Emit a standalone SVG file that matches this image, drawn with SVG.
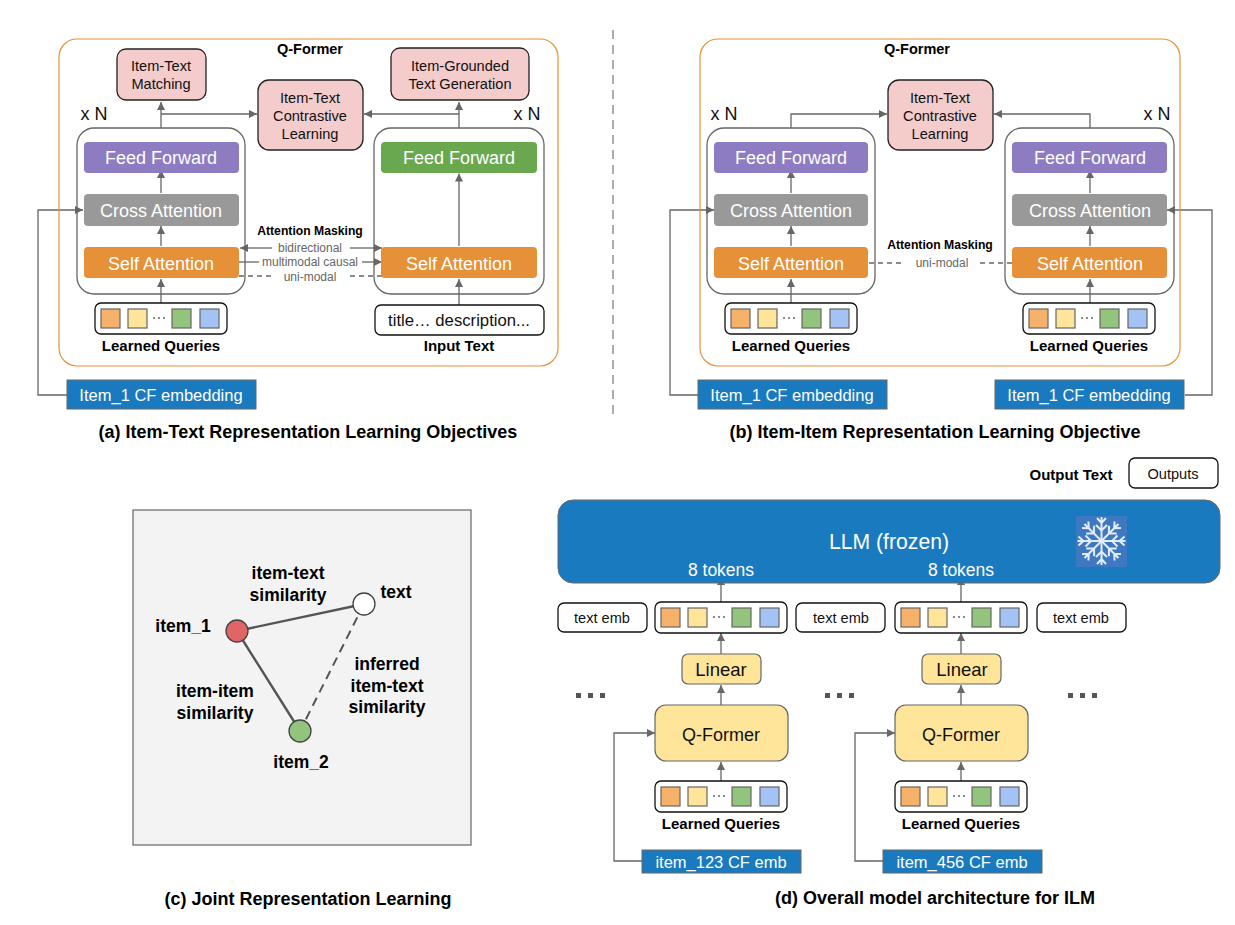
<svg xmlns="http://www.w3.org/2000/svg" xmlns:xlink="http://www.w3.org/1999/xlink" width="1235" height="925" viewBox="0 0 1235 925">
<style>
text{font-family:"Liberation Sans",Arial,sans-serif;text-anchor:middle}
.b{font-weight:700;fill:#000}
.w{fill:#fff;font-size:18px}
.k{fill:#111;font-size:14.6px}
.g{fill:#666;font-size:12px}
.lq{font-size:15px}
.cap{font-size:18px}
.c{fill:none;stroke:#666;stroke-width:1.3}
.d{stroke-dasharray:5 4}
.a{marker-end:url(#ah)}
.q{stroke:#666;stroke-width:1.2}
.p{fill:#f4cccc;stroke:#222;stroke-width:1.3}
</style>
<defs>
<marker id="ah" markerUnits="userSpaceOnUse" markerWidth="9" markerHeight="8" refX="8" refY="4" orient="auto"><path d="M0 0L8 4L0 8z" fill="#666"/></marker>
<g id="qs">
<rect x="0" y="0" width="132" height="31" rx="6" fill="#fff" stroke="#111" stroke-width="1.3"/>
<rect x="6" y="6" width="19" height="19" fill="#f6b26b" class="q"/>
<rect x="33" y="6" width="19" height="19" fill="#ffe599" class="q"/>
<rect x="77" y="6" width="19" height="19" fill="#93c47d" class="q"/>
<rect x="105" y="6" width="19" height="19" fill="#a4c2f4" class="q"/>
<circle cx="59" cy="15" r="0.9" fill="#555"/><circle cx="64" cy="15" r="0.9" fill="#555"/><circle cx="69" cy="15" r="0.9" fill="#555"/>
</g>
<path id="arm" d="M0 0V-24M-4.500 -23L0 -18L4.500 -23M-5.500 -16L0 -10.500L5.500 -16" fill="none" stroke="#e3ecf6" stroke-width="2"/>
</defs>
<rect width="1235" height="925" fill="#fff"/>

<g id="connectors">
<path class="c a" d="M161 128V102"/>
<path class="c a" d="M161 114H257"/>
<path class="c a" d="M161 193V170"/>
<path class="c a" d="M161 246V226"/>
<path class="c a" d="M161 303V279"/>
<path class="c a" d="M67 395H38V210H83"/>
<path class="c a" d="M272 248H240"/>
<path class="c a" d="M350 248H382"/>
<path class="c" d="M239 262H259"/>
<path class="c a" d="M362 262H382"/>
<path class="c d" d="M239 276H275M350 276H382"/>
<path class="c a" d="M459 128V102"/>
<path class="c a" d="M459 114H364"/>
<path class="c a" d="M459 246V173.500"/>
<path class="c a" d="M459 305V279"/>
<path d="M613 30V414" fill="none" stroke="#999" stroke-width="1.6" stroke-dasharray="9 6"/>

<path class="c a" d="M791 128V114H887"/>
<path class="c a" d="M1090 128V114H994"/>
<path class="c a" d="M791 193V170"/>
<path class="c a" d="M1090 193V170"/>
<path class="c a" d="M791 246V226"/>
<path class="c a" d="M1090 246V226"/>
<path class="c a" d="M791 303V279"/>
<path class="c a" d="M1090 303V279"/>
<path class="c a" d="M698 395H670V210H714"/>
<path class="c a" d="M1185 395H1212V210H1167"/>
<path class="c d" d="M869 263H905M980 263H1012"/>

<path class="c a" d="M721 604V577"/>
<path class="c a" d="M961 604V577"/>
<path class="c a" d="M721 654V633"/>
<path class="c a" d="M961 654V633"/>
<path class="c a" d="M721 705V685"/>
<path class="c a" d="M961 705V685"/>
<path class="c a" d="M721 781V762"/>
<path class="c a" d="M961 781V762"/>
<path class="c a" d="M642 861H614V733H655"/>
<path class="c a" d="M883 861H855V733H895"/>
</g>

<g id="qformer-a"><rect x="59" y="39" width="499" height="327" rx="18" fill="none" stroke="#e69138" stroke-width="1.2"/><text x="310" y="54" class="b" font-size="14.500">Q-Former</text></g>
<g id="block-a-left"><rect x="77" y="128" width="168" height="166" rx="17" fill="none" stroke="#666" stroke-width="1.3"/><text x="94" y="120" font-size="18" fill="#111">x N</text></g>
<g id="block-a-right"><rect x="374" y="128" width="170" height="166" rx="17" fill="none" stroke="#666" stroke-width="1.3"/><text x="527" y="120" font-size="18" fill="#111">x N</text></g>
<g id="match"><rect x="117" y="49" width="89" height="51" rx="9" class="p"/><text x="161" y="71" class="k">Item-Text</text><text x="161" y="89" class="k">Matching</text></g>
<g id="contrast-a"><rect x="258" y="80" width="105" height="70" rx="11" class="p"/><text x="310" y="103" class="k">Item-Text</text><text x="310" y="121" class="k">Contrastive</text><text x="310" y="139" class="k">Learning</text></g>
<g id="gen"><rect x="391" y="48" width="138" height="52" rx="9" class="p"/><text x="460" y="71" class="k">Item-Grounded</text><text x="460" y="89" class="k">Text Generation</text></g>
<g id="ff-a1"><rect x="84" y="142" width="155" height="31" rx="4" fill="#8e7cc3"/><text x="161" y="164" class="w">Feed Forward</text></g>
<g id="ca-a1"><rect x="84" y="194" width="155" height="32" rx="4" fill="#999"/><text x="161" y="217" class="w">Cross Attention</text></g>
<g id="sa-a1"><rect x="84" y="247" width="155" height="31" rx="4" fill="#e69138"/><text x="161" y="270" class="w">Self Attention</text></g>
<g id="ff-a2"><rect x="381" y="142" width="156" height="31" rx="4" fill="#6aa84f"/><text x="459" y="164" class="w">Feed Forward</text></g>
<g id="sa-a2"><rect x="381" y="247" width="156" height="31" rx="4" fill="#e69138"/><text x="459" y="270" class="w">Self Attention</text></g>
<g id="masking-a"><text x="310" y="235" class="b" font-size="12.200">Attention Masking</text><text x="310" y="252" class="g">bidirectional</text><text x="310" y="266" class="g">multimodal causal</text><text x="310" y="281" class="g">uni-modal</text></g>
<g id="lq-a"><use xlink:href="#qs" href="#qs" x="95" y="303"/><text x="161" y="351" class="b lq">Learned Queries</text></g>
<g id="input"><rect x="375" y="305" width="169" height="30" rx="6" fill="#fff" stroke="#111" stroke-width="1.3"/><text x="459" y="326" font-size="16.700" fill="#111">title… description...</text><text x="459" y="351" class="b lq">Input Text</text></g>
<g id="cf-a"><rect x="67" y="380" width="189" height="29" fill="#1a7abf" stroke="#666" stroke-width="1"/><text x="161" y="401" fill="#fff" font-size="16.500">Item_1 CF embedding</text></g>
<text x="308" y="438" class="b cap">(a) Item-Text Representation Learning Objectives</text>

<g id="qformer-b"><rect x="700" y="39" width="480" height="327" rx="18" fill="none" stroke="#e69138" stroke-width="1.2"/><text x="917" y="54" class="b" font-size="14.500">Q-Former</text></g>
<g id="block-b-left"><rect x="707" y="128" width="168" height="166" rx="17" fill="none" stroke="#666" stroke-width="1.3"/><text x="724" y="120" font-size="18" fill="#111">x N</text></g>
<g id="block-b-right"><rect x="1005" y="128" width="169" height="166" rx="17" fill="none" stroke="#666" stroke-width="1.3"/><text x="1157" y="120" font-size="18" fill="#111">x N</text></g>
<g id="contrast-b"><rect x="888" y="80" width="105" height="70" rx="11" class="p"/><text x="940" y="103" class="k">Item-Text</text><text x="940" y="121" class="k">Contrastive</text><text x="940" y="139" class="k">Learning</text></g>
<g id="ff-b1"><rect x="714" y="142" width="154" height="31" rx="4" fill="#8e7cc3"/><text x="791" y="164" class="w">Feed Forward</text></g>
<g id="ca-b1"><rect x="714" y="194" width="154" height="32" rx="4" fill="#999"/><text x="791" y="217" class="w">Cross Attention</text></g>
<g id="sa-b1"><rect x="714" y="247" width="154" height="31" rx="4" fill="#e69138"/><text x="791" y="270" class="w">Self Attention</text></g>
<g id="ff-b2"><rect x="1012" y="142" width="155" height="31" rx="4" fill="#8e7cc3"/><text x="1090" y="164" class="w">Feed Forward</text></g>
<g id="ca-b2"><rect x="1012" y="194" width="155" height="32" rx="4" fill="#999"/><text x="1090" y="217" class="w">Cross Attention</text></g>
<g id="sa-b2"><rect x="1012" y="247" width="155" height="31" rx="4" fill="#e69138"/><text x="1090" y="270" class="w">Self Attention</text></g>
<g id="masking-b"><text x="940" y="249" class="b" font-size="12.200">Attention Masking</text><text x="942" y="267" class="g">uni-modal</text></g>
<g id="lq-b1"><use xlink:href="#qs" href="#qs" x="725" y="303"/><text x="791" y="351" class="b lq">Learned Queries</text></g>
<g id="lq-b2"><use xlink:href="#qs" href="#qs" x="1023" y="303"/><text x="1089" y="351" class="b lq">Learned Queries</text></g>
<g id="cf-b1"><rect x="698" y="380" width="189" height="29" fill="#1a7abf" stroke="#666" stroke-width="1"/><text x="792" y="401" fill="#fff" font-size="16.500">Item_1 CF embedding</text></g>
<g id="cf-b2"><rect x="995" y="380" width="189" height="29" fill="#1a7abf" stroke="#666" stroke-width="1"/><text x="1089" y="401" fill="#fff" font-size="16.500">Item_1 CF embedding</text></g>
<text x="935" y="438" class="b cap">(b) Item-Item Representation Learning Objective</text>

<g id="plane"><rect x="133" y="510" width="338" height="335" fill="#f3f3f3" stroke="#666" stroke-width="1.2"/></g>
<g id="plane-links"><path d="M237 631L364 604M237 631L300 731" fill="none" stroke="#555" stroke-width="2.400"/><path d="M364 604L300 731" fill="none" stroke="#555" stroke-width="2" stroke-dasharray="9 6"/></g>
<g id="item1"><circle cx="237" cy="631" r="11" fill="#e06666" stroke="#444" stroke-width="1.3"/><text x="183" y="632" class="b" font-size="17.500">item_1</text></g>
<g id="text-node"><circle cx="364" cy="604" r="11" fill="#fff" stroke="#444" stroke-width="1.3"/><text x="396" y="598" class="b" font-size="17.500">text</text></g>
<g id="item2"><circle cx="300" cy="731" r="11" fill="#93c47d" stroke="#444" stroke-width="1.3"/><text x="301" y="768" class="b" font-size="17.500">item_2</text></g>
<g id="plane-labels" class="b" font-size="17.500">
<text x="288" y="579">item-text</text><text x="288" y="601">similarity</text>
<text x="215" y="697">item-item</text><text x="215" y="719">similarity</text>
<text x="387" y="670">inferred</text><text x="387" y="692">item-text</text><text x="387" y="713">similarity</text>
</g>
<text x="308" y="905" class="b cap">(c) Joint Representation Learning</text>

<g id="outputs"><text x="1071" y="480" class="b lq">Output Text</text><rect x="1129" y="458" width="89" height="30" rx="6" fill="#fff" stroke="#111" stroke-width="1.3"/><text x="1173" y="479" class="k">Outputs</text></g>
<g id="llm"><rect x="558" y="500" width="662" height="83" rx="15" fill="#1a7abf" stroke="#666" stroke-width="1"/><text x="889" y="549" fill="#fff" font-size="21.200">LLM (frozen)</text>
<rect x="1076" y="516" width="51" height="51" fill="#3d78c0"/>
<g id="flake" transform="translate(1101.500 541)"><use href="#arm" xlink:href="#arm"/><use href="#arm" xlink:href="#arm" transform="rotate(45)"/><use href="#arm" xlink:href="#arm" transform="rotate(90)"/><use href="#arm" xlink:href="#arm" transform="rotate(135)"/><use href="#arm" xlink:href="#arm" transform="rotate(180)"/><use href="#arm" xlink:href="#arm" transform="rotate(225)"/><use href="#arm" xlink:href="#arm" transform="rotate(270)"/><use href="#arm" xlink:href="#arm" transform="rotate(315)"/></g>
</g>
<text x="721" y="576" fill="#fff" font-size="17.500">8 tokens</text>
<text x="961" y="576" fill="#fff" font-size="17.500">8 tokens</text>
<g id="te1"><rect x="558" y="603" width="89" height="29" rx="6" fill="#fff" stroke="#111" stroke-width="1.3"/><text x="602" y="623" class="k">text emb</text></g>
<g id="te2"><rect x="796" y="603" width="89" height="29" rx="6" fill="#fff" stroke="#111" stroke-width="1.3"/><text x="841" y="623" class="k">text emb</text></g>
<g id="te3"><rect x="1037" y="603" width="89" height="29" rx="6" fill="#fff" stroke="#111" stroke-width="1.3"/><text x="1081" y="623" class="k">text emb</text></g>
<g id="q-top1"><use xlink:href="#qs" href="#qs" x="655" y="602"/></g>
<g id="q-top2"><use xlink:href="#qs" href="#qs" x="895" y="602"/></g>
<g id="lin1"><rect x="682" y="654" width="79" height="30" rx="6" fill="#ffe599" stroke="#666" stroke-width="1.2"/><text x="721" y="676" font-size="18.500" fill="#111">Linear</text></g>
<g id="lin2"><rect x="922" y="654" width="79" height="30" rx="6" fill="#ffe599" stroke="#666" stroke-width="1.2"/><text x="962" y="676" font-size="18.500" fill="#111">Linear</text></g>
<g id="qf1"><rect x="655" y="705" width="133" height="56" rx="11" fill="#ffe599" stroke="#666" stroke-width="1.2"/><text x="721" y="741" font-size="18" fill="#111">Q-Former</text></g>
<g id="qf2"><rect x="895" y="705" width="133" height="56" rx="11" fill="#ffe599" stroke="#666" stroke-width="1.2"/><text x="961" y="741" font-size="18" fill="#111">Q-Former</text></g>
<g id="q-bot1"><use xlink:href="#qs" href="#qs" x="655" y="781"/><text x="721" y="829" class="b lq">Learned Queries</text></g>
<g id="q-bot2"><use xlink:href="#qs" href="#qs" x="895" y="781"/><text x="961" y="829" class="b lq">Learned Queries</text></g>
<g id="cf-d1"><rect x="642" y="850" width="159" height="23" fill="#1a7abf" stroke="#666" stroke-width="1"/><text x="721" y="868" fill="#fff" font-size="16.500">item_123 CF emb</text></g>
<g id="cf-d2"><rect x="883" y="850" width="159" height="23" fill="#1a7abf" stroke="#666" stroke-width="1"/><text x="962" y="868" fill="#fff" font-size="16.500">item_456 CF emb</text></g>
<g id="dots" fill="#555">
<rect x="576" y="693" width="5" height="5"/><rect x="588" y="693" width="5" height="5"/><rect x="600" y="693" width="5" height="5"/>
<rect x="825" y="693" width="5" height="5"/><rect x="837" y="693" width="5" height="5"/><rect x="849" y="693" width="5" height="5"/>
<rect x="1068" y="693" width="5" height="5"/><rect x="1080" y="693" width="5" height="5"/><rect x="1092" y="693" width="5" height="5"/>
</g>
<text x="935" y="904" class="b cap">(d) Overall model architecture for ILM</text>
</svg>
